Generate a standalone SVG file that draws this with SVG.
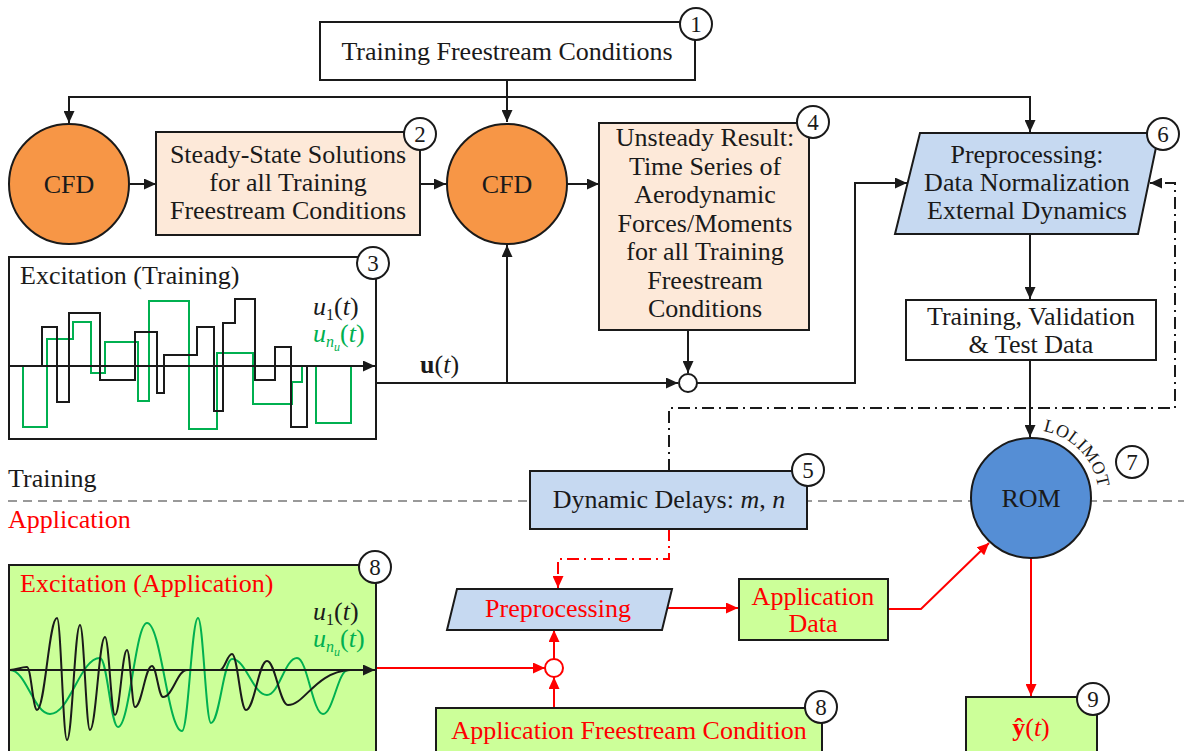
<svg xmlns="http://www.w3.org/2000/svg" width="1184" height="751" viewBox="0 0 1184 751">
<style>
text{font-family:"Liberation Serif","Times New Roman",serif;fill:#1a1a1a}
.t{font-size:26px;text-anchor:middle}
.lab{font-size:26px}
.red{fill:#ff0000}
.grn{fill:#00b050}
.box{stroke:#1a1a1a;stroke-width:2}
.num circle{fill:#fff;stroke:#1a1a1a;stroke-width:2}
.num text{font-size:23px;text-anchor:middle}
.ln{fill:none;stroke:#1a1a1a;stroke-width:2}
.rl{fill:none;stroke:#ff0000;stroke-width:2}
.dd{stroke-dasharray:12 5 2 5}
.sig{fill:none;stroke-width:2}
</style>
<defs>
<marker id="ab" markerUnits="userSpaceOnUse" markerWidth="13" markerHeight="11" refX="12" refY="5.5" orient="auto"><path d="M0,0 L12,5.5 L0,11 z" fill="#1a1a1a"/></marker>
<marker id="ar" markerUnits="userSpaceOnUse" markerWidth="13" markerHeight="11" refX="12" refY="5.5" orient="auto"><path d="M0,0 L12,5.5 L0,11 z" fill="#ff0000"/></marker>
<path id="arcLol" d="M1043,431 A68,68 0 0 1 1099,498"/>
</defs>

<!-- separator -->
<line x1="8" y1="501" x2="1184" y2="501" stroke="#999" stroke-width="2" stroke-dasharray="9 6"/>
<text class="lab" x="8" y="487">Training</text>
<text class="lab red" x="8" y="528">Application</text>

<!-- connectors -->
<g id="connectors">
<line class="ln" x1="507" y1="80" x2="507" y2="122" marker-end="url(#ab)"/>
<polyline class="ln" points="69,122 69,97 1030,97 1030,132" marker-end="url(#ab)"/>
<line class="ln" x1="69" y1="97" x2="69" y2="123" marker-end="url(#ab)"/>
<line class="ln" x1="130" y1="184" x2="156" y2="184" marker-end="url(#ab)"/>
<line class="ln" x1="420" y1="184" x2="446" y2="184" marker-end="url(#ab)"/>
<line class="ln" x1="567" y1="184" x2="599" y2="184" marker-end="url(#ab)"/>
<line class="ln" x1="688" y1="330" x2="688" y2="373" marker-end="url(#ab)"/>
<line class="ln" x1="376" y1="383" x2="678" y2="383" marker-end="url(#ab)"/>
<line class="ln" x1="507" y1="383" x2="507" y2="245" marker-end="url(#ab)"/>
<polyline class="ln" points="697,383 855,383 855,183 907,183" marker-end="url(#ab)"/>
<line class="ln" x1="1030" y1="234" x2="1030" y2="299" marker-end="url(#ab)"/>
<line class="ln" x1="1030" y1="360" x2="1030" y2="437" marker-end="url(#ab)"/>
<polyline class="ln dd" points="669,471 669,408 1175,408 1175,183 1150,183" marker-end="url(#ab)"/>
<polyline class="rl dd" points="669,529 669,559 558,559 558,588" marker-end="url(#ar)"/>
<line class="rl" x1="376" y1="668" x2="545" y2="668" marker-end="url(#ar)"/>
<line class="rl" x1="554" y1="708" x2="554" y2="677" marker-end="url(#ar)"/>
<line class="rl" x1="554" y1="659" x2="554" y2="630" marker-end="url(#ar)"/>
<line class="rl" x1="667" y1="608" x2="738" y2="608" marker-end="url(#ar)"/>
<polyline class="rl" points="888,609 921,609 989,543" marker-end="url(#ar)"/>
<line class="rl" x1="1031" y1="558" x2="1031" y2="696" marker-end="url(#ar)"/>
<circle cx="688" cy="383" r="9" fill="#fff" stroke="#1a1a1a" stroke-width="2"/>
<circle cx="554" cy="668" r="9" fill="#fff" stroke="#ff0000" stroke-width="2"/>
<text class="lab" x="420" y="373"><tspan font-weight="bold">u</tspan>(<tspan font-style="italic">t</tspan>)</text>
</g>

<!-- node 1 -->
<g id="n1">
<rect class="box" x="320" y="22" width="375" height="58" fill="#fff"/>
<text class="t" x="507" y="60">Training Freestream Conditions</text>
<g class="num"><circle cx="696" cy="24" r="16"/><text x="696" y="32">1</text></g>
</g>

<!-- CFD 1 -->
<g id="cfd1">
<circle cx="69" cy="184" r="60" fill="#f79646" stroke="#1a1a1a" stroke-width="2"/>
<text class="t" x="69" y="193">CFD</text>
</g>

<!-- node 2 -->
<g id="n2">
<rect class="box" x="156" y="132" width="264" height="103" fill="#fde9d9"/>
<text class="t" x="288" y="163">Steady-State Solutions</text>
<text class="t" x="288" y="191">for all Training</text>
<text class="t" x="288" y="219">Freestream Conditions</text>
<g class="num"><circle cx="420" cy="134" r="16"/><text x="420" y="142">2</text></g>
</g>

<!-- CFD 2 -->
<g id="cfd2">
<circle cx="507" cy="184" r="60" fill="#f79646" stroke="#1a1a1a" stroke-width="2"/>
<text class="t" x="507" y="193">CFD</text>
</g>

<!-- node 4 -->
<g id="n4">
<rect class="box" x="599" y="123" width="210" height="207" fill="#fde9d9"/>
<text class="t" x="705" y="146">Unsteady Result:</text>
<text class="t" x="705" y="175">Time Series of</text>
<text class="t" x="705" y="203">Aerodynamic</text>
<text class="t" x="705" y="232">Forces/Moments</text>
<text class="t" x="705" y="260">for all Training</text>
<text class="t" x="705" y="289">Freestream</text>
<text class="t" x="705" y="317">Conditions</text>
<g class="num"><circle cx="813" cy="122" r="16"/><text x="813" y="130">4</text></g>
</g>

<!-- node 6 -->
<g id="n6">
<polygon class="box" points="920,133 1159,133 1138,234 895,234" fill="#c6d9f1"/>
<text class="t" x="1027" y="163">Preprocessing:</text>
<text class="t" x="1027" y="191">Data Normalization</text>
<text class="t" x="1027" y="219">External Dynamics</text>
<g class="num"><circle cx="1163" cy="134" r="16"/><text x="1163" y="142">6</text></g>
</g>

<!-- training data -->
<g id="ntvt">
<rect class="box" x="906" y="300" width="250" height="60" fill="#fff"/>
<text class="t" x="1031" y="325">Training, Validation</text>
<text class="t" x="1031" y="353">&amp; Test Data</text>
</g>

<!-- node 3 excitation training -->
<g id="n3">
<rect class="box" x="9" y="257" width="367" height="182" fill="#fff"/>
<text class="lab" x="20" y="284">Excitation (Training)</text>
<path class="sig" stroke="#00b050" d="M10,366 H23 V427 H47 V339 H73 V322 H91 V373 H105 V342 H138 V401 H149 V301 H189 V429 H217 V353 H253 V404 H292 V382 H302 V366 H316 V423 H351 V366"/>
<path class="sig" stroke="#1a1a1a" d="M10,366 H42 V327 H57 V402 H69 V313 H100 V380 H135 V332 H157 V393 H164 V355 H197 V327 H214 V411 H223 V323 H235 V299 H255 V380 H275 V347 H291 V427 H307 V366"/>
<line class="ln" x1="10" y1="366" x2="375" y2="366" marker-end="url(#ab)"/>
<text class="lab" x="313" y="315"><tspan font-style="italic">u</tspan><tspan font-size="16" dy="5">1</tspan><tspan dy="-5">(</tspan><tspan font-style="italic">t</tspan>)</text>
<text class="lab grn" x="313" y="342"><tspan font-style="italic">u</tspan><tspan font-size="16" font-style="italic" dy="5">n</tspan><tspan font-size="12" font-style="italic" dy="4">u</tspan><tspan dy="-9">(</tspan><tspan font-style="italic">t</tspan>)</text>
<g class="num"><circle cx="373" cy="263" r="16"/><text x="373" y="271">3</text></g>
</g>

<!-- node 5 -->
<g id="n5">
<rect class="box" x="530" y="471" width="277" height="58" fill="#c6d9f1"/>
<text class="t" x="669" y="508">Dynamic Delays: <tspan font-style="italic">m</tspan>, <tspan font-style="italic">n</tspan></text>
<g class="num"><circle cx="808" cy="470" r="16"/><text x="808" y="478">5</text></g>
</g>

<!-- ROM -->
<g id="rom">
<circle cx="1031" cy="498" r="60" fill="#558ed5" stroke="#1a1a1a" stroke-width="2"/>
<text class="t" x="1031" y="507">ROM</text>
<text font-size="18" letter-spacing="0.5"><textPath href="#arcLol">LOLIMOT</textPath></text>
<g class="num"><circle cx="1132" cy="462" r="16"/><text x="1132" y="470">7</text></g>
</g>

<!-- node 8 excitation application -->
<g id="n8a">
<rect class="box" x="9" y="565" width="367" height="200" fill="#ccff99"/>
<text class="lab red" x="20" y="592">Excitation (Application)</text>
<path class="sig" stroke="#00b050" d="M10,670 C26,670 34,714 50,714 C70,714 80,658 100,658 C107.2,658 110.8,727 118,727 C129.6,727 135.4,623 147,623 C161,623 168,731 182,731 C188.4,731 191.6,618 198,618 C203.2,618 205.8,723 211,723 C219.4,723 223.6,659 232,659 C246,659 253,695 267,695 C279,695 285,658 297,658 C307.4,658 312.6,714 323,714 C333,714 338,670 348,670"/>
<path class="sig" stroke="#1a1a1a" d="M10,670 C16.8,670 20.2,667 27,667 C31,667 33,710 37,710 C45,710 49,618 57,618 C61,618 63,740 67,740 C72.2,740 74.8,625 80,625 C84,625 86,730 90,730 C96,730 99,637 105,637 C109,637 111,715 115,715 C119.8,715 122.2,650 127,650 C130.2,650 131.8,707 135,707 C141.8,707 145.2,666 152,666 C156.4,666 158.6,697 163,697 C172.6,697 177.4,670 187,670 L220,670 C224.8,670 227.2,654 232,654 C237.6,654 240.4,710 246,710 C254.4,710 258.6,661 267,661 C275.4,661 279.6,705 288,705 C305,705 315,672 350,670"/>
<line class="ln" x1="10" y1="670" x2="375" y2="670" marker-end="url(#ab)"/>
<text class="lab" x="313" y="620"><tspan font-style="italic">u</tspan><tspan font-size="16" dy="5">1</tspan><tspan dy="-5">(</tspan><tspan font-style="italic">t</tspan>)</text>
<text class="lab grn" x="313" y="647"><tspan font-style="italic">u</tspan><tspan font-size="16" font-style="italic" dy="5">n</tspan><tspan font-size="12" font-style="italic" dy="4">u</tspan><tspan dy="-9">(</tspan><tspan font-style="italic">t</tspan>)</text>
<g class="num"><circle cx="375" cy="567" r="16"/><text x="375" y="575">8</text></g>
</g>

<!-- preprocessing application -->
<g id="npa">
<polygon class="box" points="457,589 672,589 662,630 447,630" fill="#c6d9f1"/>
<text class="t red" x="558" y="617">Preprocessing</text>
</g>

<!-- application data -->
<g id="nad">
<rect class="box" x="739" y="579" width="149" height="61" fill="#ccff99"/>
<text class="t red" x="813" y="605">Application</text>
<text class="t red" x="813" y="632">Data</text>
</g>

<!-- application freestream -->
<g id="n8b">
<rect class="box" x="436" y="708" width="386" height="60" fill="#ccff99"/>
<text class="t red" x="629" y="739">Application Freestream Condition</text>
<g class="num"><circle cx="821" cy="707" r="16"/><text x="821" y="715">8</text></g>
</g>

<!-- output -->
<g id="n9">
<rect class="box" x="966" y="697" width="131" height="70" fill="#ccff99"/>
<text class="t red" x="1031" y="736"><tspan font-weight="bold">ŷ</tspan>(<tspan font-style="italic">t</tspan>)</text>
<g class="num"><circle cx="1093" cy="699" r="16"/><text x="1093" y="707">9</text></g>
</g>
</svg>
